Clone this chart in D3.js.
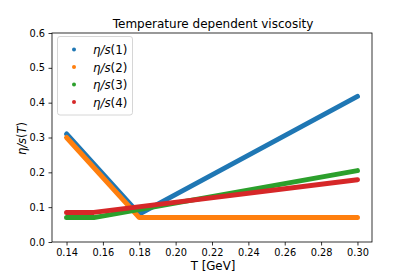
<!DOCTYPE html>
<html>
<head>
<meta charset="utf-8">
<script src="https://cdnjs.cloudflare.com/ajax/libs/d3/7.8.5/d3.min.js"></script>
<style>
  body { margin: 0; background: #fff; }
  text { font-family: "DejaVu Sans", sans-serif; fill: #000; }
</style>
</head>
<body>
<svg id="chart" width="415" height="277"></svg>
<script>
// breakpoints of each eta/s(T) parametrisation
var temps1 = [0.14, 0.18, 0.30]
var visc1 = [0.31, 0.08, 0.418]
var temps2 = [0.14, 0.18, 0.30]
var visc2 = [0.30, 0.07, 0.07]
var temps3 = [0.14, 0.155, 0.30]
var visc3 = [0.07, 0.07, 0.205]
var temps4 = [0.14, 0.155, 0.30]
var visc4 = [0.085, 0.085, 0.179]
var seriesNames = ["1", "2", "3", "4"]
var colors = ["#1f77b4", "#ff7f0e", "#2ca02c", "#d62728"]
var xTicks = [0.14, 0.16, 0.18, 0.20, 0.22, 0.24, 0.26, 0.28, 0.30]
var yTicks = [0.0, 0.1, 0.2, 0.3, 0.4, 0.5, 0.6]

var series = [
  d3.zip(temps1, visc1),
  d3.zip(temps2, visc2),
  d3.zip(temps3, visc3),
  d3.zip(temps4, visc4)
]

// plot box (note: "top" is taken by window.top, so use other names)
var plotL = 52, plotR = 372, plotT = 33, plotB = 242

var svg = d3.select("#chart")

var x = d3.scaleLinear().domain([0.132, 0.308]).range([plotL, plotR])
var y = d3.scaleLinear().domain([0, 0.6]).range([plotB, plotT])

var line = d3.line()
             .x(function(d) { return x(d[0]) })
             .y(function(d) { return y(d[1]) })

var plot = svg.append("g")
plot.selectAll("path")
    .data(series)
    .enter()
    .append("path")
    .attr("d", line)
    .attr("fill", "none")
    .attr("stroke", function(d, i) { return colors[i] })
    .attr("stroke-width", 5)
    .attr("stroke-linecap", "round")
    .attr("stroke-linejoin", "round")

// axes
svg.append("g")
   .attr("transform", "translate(0," + plotB + ")")
   .call(d3.axisBottom(x).tickValues(xTicks).tickFormat(d3.format(".2f")).tickSize(3.5).tickPadding(3.5))
svg.append("g")
   .attr("transform", "translate(" + plotL + ",0)")
   .call(d3.axisLeft(y).tickValues(yTicks).tickFormat(d3.format(".1f")).tickSize(3.5).tickPadding(3.5))
svg.selectAll(".domain").remove()
svg.selectAll(".tick text").style("font-family", "DejaVu Sans").style("font-size", "9.8px")
svg.selectAll(".tick line").attr("stroke", "#000").attr("stroke-width", 0.8)

svg.append("rect")
   .attr("x", plotL).attr("y", plotT)
   .attr("width", plotR - plotL).attr("height", plotB - plotT)
   .attr("fill", "none").attr("stroke", "#000").attr("stroke-width", 0.8)

// labels
svg.append("text")
   .attr("x", (plotL + plotR) / 2 + 1).attr("y", 28)
   .attr("text-anchor", "middle")
   .style("font-size", "12px")
   .text("Temperature dependent viscosity")

svg.append("text")
   .attr("x", (plotL + plotR) / 2 + 1).attr("y", 270)
   .attr("text-anchor", "middle")
   .style("font-size", "11.8px")
   .text("T [GeV]")

var ylab = svg.append("text")
   .attr("transform", "translate(26," + ((plotT + plotB) / 2 + 1) + ") rotate(-90)")
   .attr("text-anchor", "middle")
   .style("font-size", "11.5px")
ylab.append("tspan").style("font-style", "italic").text("η/s")
ylab.append("tspan").text("(")
ylab.append("tspan").style("font-style", "italic").text("T")
ylab.append("tspan").text(")")

// legend
var legend = svg.append("g")
legend.append("rect")
      .attr("x", 57.5).attr("y", 36.5)
      .attr("width", 75).attr("height", 78.5)
      .attr("rx", 2.5)
      .attr("fill", "#fff").attr("fill-opacity", 0.8)
      .attr("stroke", "#ccc").attr("stroke-width", 0.8)

var items = legend.selectAll("g.item")
                  .data(seriesNames)
                  .enter()
                  .append("g")
                  .attr("transform", function(d, i) { return "translate(0," + (49.5 + i * 17.5) + ")" })
items.append("circle")
     .attr("cx", 74).attr("cy", 0).attr("r", 2)
     .attr("fill", function(d, i) { return colors[i] })
var itemText = items.append("text")
                    .attr("x", 93).attr("y", 4.5)
                    .style("font-size", "11.8px")
itemText.append("tspan").style("font-style", "italic").text("η/s")
itemText.append("tspan").text(function(d) { return "(" + d + ")" })
</script>
</body>
</html>
